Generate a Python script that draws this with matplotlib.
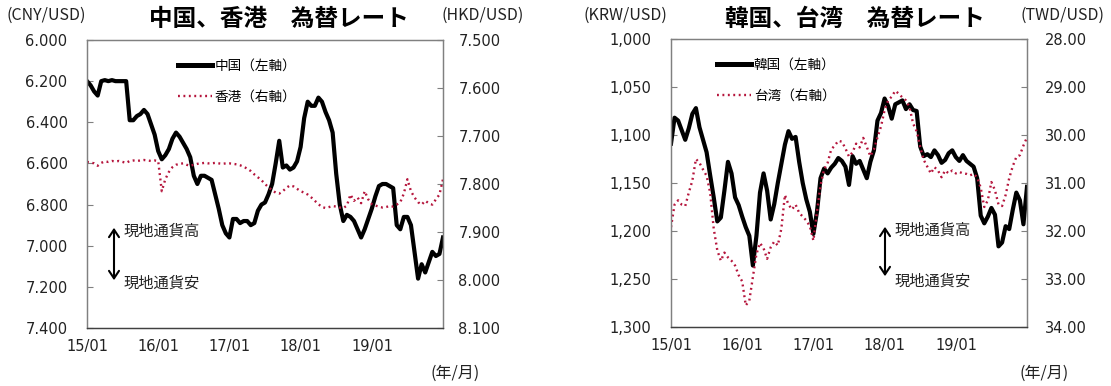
import numpy as np
import pandas as pd
import matplotlib
matplotlib.use("Agg")
import matplotlib.pyplot as plt
import matplotlib.dates as mdates
from matplotlib.patches import FancyArrowPatch
from matplotlib.ticker import FixedLocator, FuncFormatter

# ----------------------------------------------------------------------------
# Exchange rates vs USD, 2015/01 - 2019/12 (values read off the chart,
# sampled about every 18 days)
# ----------------------------------------------------------------------------
dates = pd.date_range("2015-01-01", "2019-12-31", periods=101)

# China (CNY/USD, left axis)
cny = [6.20, 6.22, 6.25, 6.27, 6.20, 6.195, 6.20, 6.195, 6.20, 6.20,
       6.20, 6.20, 6.39, 6.39, 6.37, 6.36, 6.34, 6.36, 6.41, 6.46,
       6.54, 6.58, 6.56, 6.53, 6.48, 6.45, 6.47, 6.50, 6.53, 6.57,
       6.66, 6.70, 6.66, 6.66, 6.67, 6.68, 6.75, 6.82, 6.90, 6.94,
       6.96, 6.87, 6.87, 6.89, 6.88, 6.88, 6.90, 6.89, 6.83, 6.80,
       6.79, 6.75, 6.70, 6.60, 6.49, 6.62, 6.61, 6.63, 6.62, 6.59,
       6.52, 6.38, 6.30, 6.32, 6.32, 6.28, 6.30, 6.35, 6.39, 6.45,
       6.65, 6.80, 6.88, 6.85, 6.86, 6.88, 6.92, 6.96, 6.92, 6.87,
       6.82, 6.76, 6.71, 6.70, 6.70, 6.71, 6.72, 6.90, 6.92, 6.86,
       6.86, 6.90, 7.03, 7.16, 7.09, 7.13, 7.08, 7.03, 7.05, 7.04,
       6.96]

# Hong Kong (HKD/USD, right axis)
hkd = [7.754, 7.755, 7.757, 7.762, 7.756, 7.753, 7.754, 7.752, 7.753, 7.752,
       7.754, 7.756, 7.752, 7.751, 7.752, 7.751, 7.750, 7.751, 7.752, 7.751,
       7.752, 7.815, 7.790, 7.775, 7.765, 7.760, 7.758, 7.757, 7.760, 7.762,
       7.760, 7.758, 7.757, 7.756, 7.757, 7.757, 7.756, 7.757, 7.758, 7.757,
       7.757, 7.758, 7.759, 7.761, 7.764, 7.768, 7.773, 7.780, 7.786, 7.792,
       7.800, 7.807, 7.813, 7.818, 7.820, 7.815, 7.808, 7.803, 7.805, 7.810,
       7.815, 7.818, 7.822, 7.828, 7.835, 7.842, 7.848, 7.850, 7.848, 7.846,
       7.847, 7.849, 7.850, 7.845, 7.822, 7.835, 7.828, 7.840, 7.815, 7.832,
       7.842, 7.845, 7.847, 7.849, 7.848, 7.846, 7.847, 7.843, 7.838, 7.820,
       7.790, 7.815, 7.828, 7.838, 7.843, 7.835, 7.840, 7.843, 7.832, 7.822,
       7.790]

# Korea (KRW/USD, left axis)
krw = [1109, 1082, 1085, 1095, 1105, 1093, 1078, 1072, 1092, 1105,
       1118, 1142, 1165, 1190, 1186, 1158, 1128, 1140, 1165, 1173,
       1185, 1196, 1205, 1236, 1205, 1160, 1140, 1158, 1188, 1172,
       1150, 1130, 1110, 1096, 1104, 1102, 1128, 1150, 1167, 1180,
       1203, 1180, 1145, 1135, 1140, 1134, 1130, 1124, 1127, 1133,
       1152, 1122, 1130, 1127, 1136, 1145, 1128, 1116, 1085, 1077,
       1062, 1070, 1083, 1068, 1066, 1064, 1073, 1068, 1074, 1075,
       1112, 1122, 1120, 1123, 1116, 1121, 1129, 1126, 1119, 1116,
       1123, 1127, 1121, 1127, 1130, 1133, 1145, 1184, 1192, 1185,
       1176, 1183, 1216, 1212, 1195, 1198, 1178, 1160, 1168, 1193,
       1154]

# Taiwan (TWD/USD, right axis)
twd = [31.92, 31.45, 31.36, 31.45, 31.48, 31.20, 30.95, 30.50, 30.58, 30.72,
       30.85, 31.20, 31.95, 32.40, 32.62, 32.45, 32.55, 32.62, 32.72, 32.92,
       33.05, 33.55, 33.45, 32.96, 32.48, 32.25, 32.36, 32.58, 32.34, 32.22,
       32.30, 31.95, 31.25, 31.45, 31.55, 31.45, 31.62, 31.70, 31.78, 31.90,
       32.20, 31.60, 31.05, 30.72, 30.58, 30.30, 30.22, 30.12, 30.14, 30.28,
       30.45, 30.36, 30.18, 30.26, 30.06, 30.25, 30.44, 30.30, 30.05, 29.82,
       29.48, 29.28, 29.20, 29.08, 29.14, 29.22, 29.28, 29.42, 29.76, 29.92,
       30.25, 30.52, 30.66, 30.80, 30.67, 30.74, 30.88, 30.74, 30.80, 30.74,
       30.80, 30.77, 30.80, 30.81, 30.84, 30.81, 30.88, 31.10, 31.50, 31.36,
       30.98, 31.15, 31.45, 31.48, 31.25, 30.90, 30.65, 30.46, 30.42, 30.22,
       30.05]

year_ticks = pd.to_datetime(["2015-01-01", "2016-01-01", "2017-01-01",
                             "2018-01-01", "2019-01-01"])

JP = ["Noto Sans CJK JP", "DejaVu Sans"]
RED = "#B5153C"
GRAY = "#808080"
TXT = "#222222"
W, H = 1111, 386

fig = plt.figure(figsize=(W / 100, H / 100), dpi=100)


def ftext(x, y, s, **kw):
    # place text using pixel coordinates measured from the top-left corner
    fig.text(x / W, 1 - y / H, s, **kw)


def panel(left_px, top_px, bottom_px, s1, s2, lab1, lab2,
          lim1, lim2, ticks1, ticks2, fmt1, fmt2, pad1, pad2, leg_x):
    ax = fig.add_axes([left_px / W, 1 - bottom_px / H, 356 / W,
                       (bottom_px - top_px) / H])
    ax2 = ax.twinx()
    l1, = ax.plot(dates, s1, color="black", lw=3.0, label=lab1)
    l2, = ax2.plot(dates, s2, color=RED, lw=1.7, ls=(0, (0.8, 1.5)),
                   label=lab2)
    ax.set_ylim(*lim1)
    ax2.set_ylim(*lim2)
    ax.yaxis.set_major_locator(FixedLocator(ticks1))
    ax2.yaxis.set_major_locator(FixedLocator(ticks2))
    ax.yaxis.set_major_formatter(FuncFormatter(fmt1))
    ax2.yaxis.set_major_formatter(FuncFormatter(fmt2))
    ax.set_xlim(pd.Timestamp("2015-01-01"), pd.Timestamp("2019-12-31"))
    ax.xaxis.set_major_locator(FixedLocator(mdates.date2num(year_ticks)))
    ax.xaxis.set_major_formatter(mdates.DateFormatter("%y/%m"))
    ax.tick_params(axis="x", length=0, pad=8, labelsize=10.5, colors=TXT)
    ax.tick_params(axis="y", direction="in", length=4, color=GRAY,
                   pad=pad1, labelsize=10.5, labelcolor=TXT)
    ax2.tick_params(axis="y", direction="in", length=4, color=GRAY,
                    pad=pad2, labelsize=10.5, labelcolor=TXT)
    for a in (ax, ax2):
        for sp in a.spines.values():
            sp.set_color(GRAY)
            sp.set_linewidth(0.9)
        a.spines["bottom"].set_color("#404040")
    leg = ax.legend(handles=[l1, l2], loc="upper left",
                    bbox_to_anchor=(leg_x, 0.935), frameon=False,
                    prop={"family": JP, "size": 9.8}, handlelength=2.5,
                    handletextpad=0.2, labelspacing=1.25, borderpad=0,
                    borderaxespad=0)
    leg.get_lines()[0].set_linewidth(3.6)
    return ax, ax2


# ---- left panel: China / Hong Kong ----
panel(87, 40, 328, cny, hkd, "中国（左軸）", "香港（右軸）",
      (7.4, 6.0), (8.1, 7.5),
      [6.0, 6.2, 6.4, 6.6, 6.8, 7.0, 7.2, 7.4],
      [7.5, 7.6, 7.7, 7.8, 7.9, 8.0, 8.1],
      lambda v, p: f"{v:.3f}", lambda v, p: f"{v:.3f}", 14, 11, 0.255)

# ---- right panel: Korea / Taiwan ----
panel(671, 39, 327, krw, twd, "韓国（左軸）", "台湾（右軸）",
      (1300, 1000), (34, 28),
      [1000, 1050, 1100, 1150, 1200, 1250, 1300],
      [28, 29, 30, 31, 32, 33, 34],
      lambda v, p: f"{v:,.0f}", lambda v, p: f"{v:.2f}", 14, 13, 0.129)

# titles and axis unit labels
ftext(279, 19, "中国、香港　為替レート", family=JP, fontsize=17,
      fontweight="bold", ha="center", va="center")
ftext(855, 19, "韓国、台湾　為替レート", family=JP, fontsize=17,
      fontweight="bold", ha="center", va="center")
for x, s in [(46, "(CNY/USD)"), (483, "(HKD/USD)"),
             (625, "(KRW/USD)"), (1062, "(TWD/USD)")]:
    ftext(x, 15, s, family=JP, fontsize=11.5, ha="center", va="center",
          color=TXT)
for x in (455, 1044):
    ftext(x, 373, "(年/月)", family=JP, fontsize=11.5, ha="center",
          va="center", color=TXT)

# local currency strength arrows
for ax_x, y_top, y_bot, y_hi, y_lo in [(114, 225, 283, 231, 283),
                                        (885, 224, 279, 230, 281)]:
    fig.add_artist(FancyArrowPatch(
        (ax_x / W, 1 - y_top / H), (ax_x / W, 1 - y_bot / H),
        transform=fig.transFigure, arrowstyle="<->,head_length=0.45,head_width=0.3",
        mutation_scale=12, lw=1.5, color="black"))
    ftext(ax_x + 10, y_hi, "現地通貨高", family=JP, fontsize=11,
          va="center", color=TXT)
    ftext(ax_x + 10, y_lo, "現地通貨安", family=JP, fontsize=11,
          va="center", color=TXT)

fig.savefig("out.png", dpi=100)
